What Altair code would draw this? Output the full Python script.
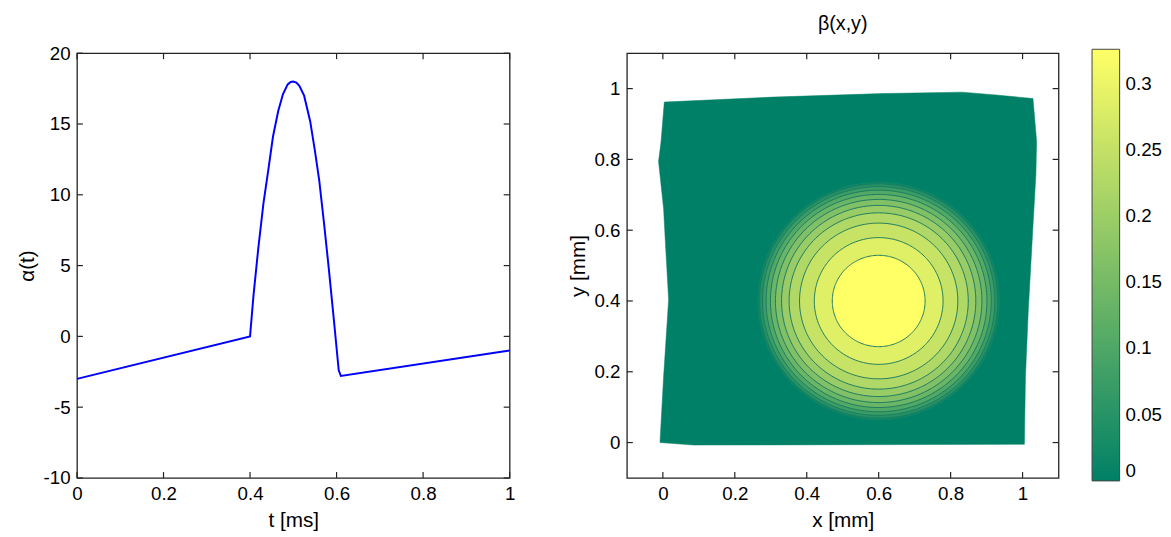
import altair as alt
import numpy as np
import pandas as pd

FONT = "Liberation Sans"

# ---------------- left panel: alpha(t) ----------------
t_ms = [0.0, 0.4, 0.408, 0.419, 0.431, 0.442, 0.453, 0.465, 0.476, 0.487, 0.494, 0.5,
        0.507, 0.514, 0.525, 0.539, 0.55, 0.56, 0.571, 0.582, 0.594, 0.605, 0.61, 1.0]
alpha_t = [-3.0, 0.0, 2.9, 6.2, 9.4, 11.7, 14.1, 15.9, 17.1, 17.8, 17.97, 18.0,
           17.92, 17.7, 17.0, 15.2, 13.1, 11.0, 8.0, 4.8, 1.1, -2.4, -2.8, -1.0]
left_xticks = [0, 0.2, 0.4, 0.6, 0.8, 1]
left_yticks = [-10, -5, 0, 5, 10, 15, 20]

# ---------------- right panel: beta(x,y) ----------------
domain_x = [0.004, 0.307, 0.611, 0.832, 0.926, 1.029, 1.039, 1.037, 1.029, 1.016, 1.008,
            1.005, 0.086, -0.008, 0.002, 0.016, 0.007, 0.002, -0.012, -0.005, 0.004]
domain_y = [0.962, 0.976, 0.986, 0.990, 0.982, 0.972, 0.851, 0.756, 0.613, 0.375, 0.185,
            -0.005, -0.007, 0.0, 0.185, 0.404, 0.566, 0.661, 0.794, 0.851, 0.962]
bump_center_x = 0.6
bump_center_y = 0.4
contour_radii = [0.337, 0.331, 0.323, 0.313, 0.301, 0.287, 0.270, 0.249, 0.220, 0.179, 0.129]
band_values = [0.015, 0.045, 0.075, 0.105, 0.135, 0.165, 0.195, 0.225, 0.255, 0.285, 0.326]
right_ticks = [0, 0.2, 0.4, 0.6, 0.8, 1]
cbar_ticks = [0, 0.05, 0.1, 0.15, 0.2, 0.25, 0.3]
beta_max = 0.326

W_L, W_R, H = 439, 438, 431
TICK = 6
FRAME = "#222222"


def tick_layers(xvals, yvals, X_of, Y_of, w, h):
    dx = pd.DataFrame({"v": xvals})
    dy = pd.DataFrame({"v": yvals})
    bx = alt.Chart(dx).mark_rule(color=FRAME, strokeWidth=1.2)
    by = alt.Chart(dy).mark_rule(color=FRAME, strokeWidth=1.2)
    return [
        bx.encode(x=X_of("v"), y=alt.value(h), y2=alt.value(h - TICK)),
        bx.encode(x=X_of("v"), y=alt.value(0), y2=alt.value(TICK)),
        by.encode(y=Y_of("v"), x=alt.value(0), x2=alt.value(TICK)),
        by.encode(y=Y_of("v"), x=alt.value(w), x2=alt.value(w - TICK)),
    ]


# ---- left chart
xs_L = alt.Scale(domain=[0, 1], nice=False, zero=False)
ys_L = alt.Scale(domain=[-10, 20], nice=False, zero=False)
ax_xL = alt.Axis(values=left_xticks, title="t [ms]", labelExpr="'' + datum.value")
ax_yL = alt.Axis(values=left_yticks, title="α(t)", labelExpr="'' + datum.value")


def XL(f):
    return alt.X(f"{f}:Q", scale=xs_L, axis=ax_xL)


def YL(f):
    return alt.Y(f"{f}:Q", scale=ys_L, axis=ax_yL)


df_left = pd.DataFrame({"t": t_ms, "a": alpha_t})
line = alt.Chart(df_left).mark_line(color="#0000ff", strokeWidth=2).encode(
    x=XL("t"), y=YL("a"))
left = alt.layer(line, *tick_layers(left_xticks, left_yticks, XL, YL, W_L, H)).properties(
    width=W_L, height=H)

# ---- right chart
xs_R = alt.Scale(domain=[-0.1, 1.1], nice=False, zero=False)
ys_R = alt.Scale(domain=[-0.1, 1.1], nice=False, zero=False)
ax_xR = alt.Axis(values=right_ticks, title="x [mm]", labelExpr="'' + datum.value")
ax_yR = alt.Axis(values=right_ticks, title="y [mm]", labelExpr="'' + datum.value")


def XR(f):
    return alt.X(f"{f}:Q", scale=xs_R, axis=ax_xR)


def YR(f):
    return alt.Y(f"{f}:Q", scale=ys_R, axis=ax_yR)


fill_scale = alt.Scale(domain=[0, beta_max], range=["#008066", "#ffff66"], interpolate="rgb")
legend = alt.Legend(
    title=None, orient="none", legendX=472, legendY=-4, direction="vertical",
    values=cbar_ticks, labelExpr="'' + datum.value", gradientLength=438,
    gradientThickness=28, gradientStrokeColor="#444444", gradientStrokeWidth=1,
    labelFontSize=19, labelOffset=6, labelBaseline="middle", padding=0,
)

df_dom = pd.DataFrame({"x": domain_x, "y": domain_y, "i": list(range(len(domain_x)))})
dom = alt.Chart(df_dom).mark_line(fill="#008066", stroke="#008066", strokeWidth=0.5).encode(
    x=XR("x"), y=YR("y"), order="i:Q")

theta = np.linspace(0, 2 * np.pi, 241)
band_layers = []
for k, (r, v) in enumerate(zip(contour_radii, band_values)):
    dfb = pd.DataFrame({
        "x": bump_center_x + r * np.cos(theta),
        "y": bump_center_y + r * np.sin(theta),
        "i": np.arange(len(theta)),
        "value": v,
    })
    band_layers.append(
        alt.Chart(dfb).mark_line(stroke="#1e7b5f", strokeWidth=1,
                                 strokeOpacity=(0 if k == 0 else 1)).encode(
            x=XR("x"), y=YR("y"), order="i:Q",
            fill=alt.Fill("value:Q", scale=fill_scale, legend=legend),
        )
    )

right = alt.layer(dom, *band_layers,
                  *tick_layers(right_ticks, right_ticks, XR, YR, W_R, H)).properties(
    width=W_R, height=H,
    title=alt.Title("β(x,y)", fontSize=20, fontWeight="normal", font=FONT, color="#000000",
                    offset=16),
)

chart = alt.hconcat(left, right, spacing=119, bounds="flush").resolve_scale(
    fill="independent").resolve_legend(fill="independent").properties(
    padding={"left": 7, "top": 1, "right": 0, "bottom": 0}
).configure(font=FONT).configure_view(
    stroke=FRAME, strokeWidth=1.3
).configure_axis(
    labelFont=FONT, labelFontSize=19, labelColor="#000000", labelPadding=7,
    labelFlush=False, labelOverlap=False,
    titleFont=FONT, titleFontSize=21, titleFontWeight="normal", titleColor="#000000",
    titlePadding=6, ticks=False, tickSize=0, domain=False, grid=False,
).configure_legend(
    labelFont=FONT, labelColor="#000000",
)

chart.save("out.html", embed_options={"renderer": "svg", "actions": False})
